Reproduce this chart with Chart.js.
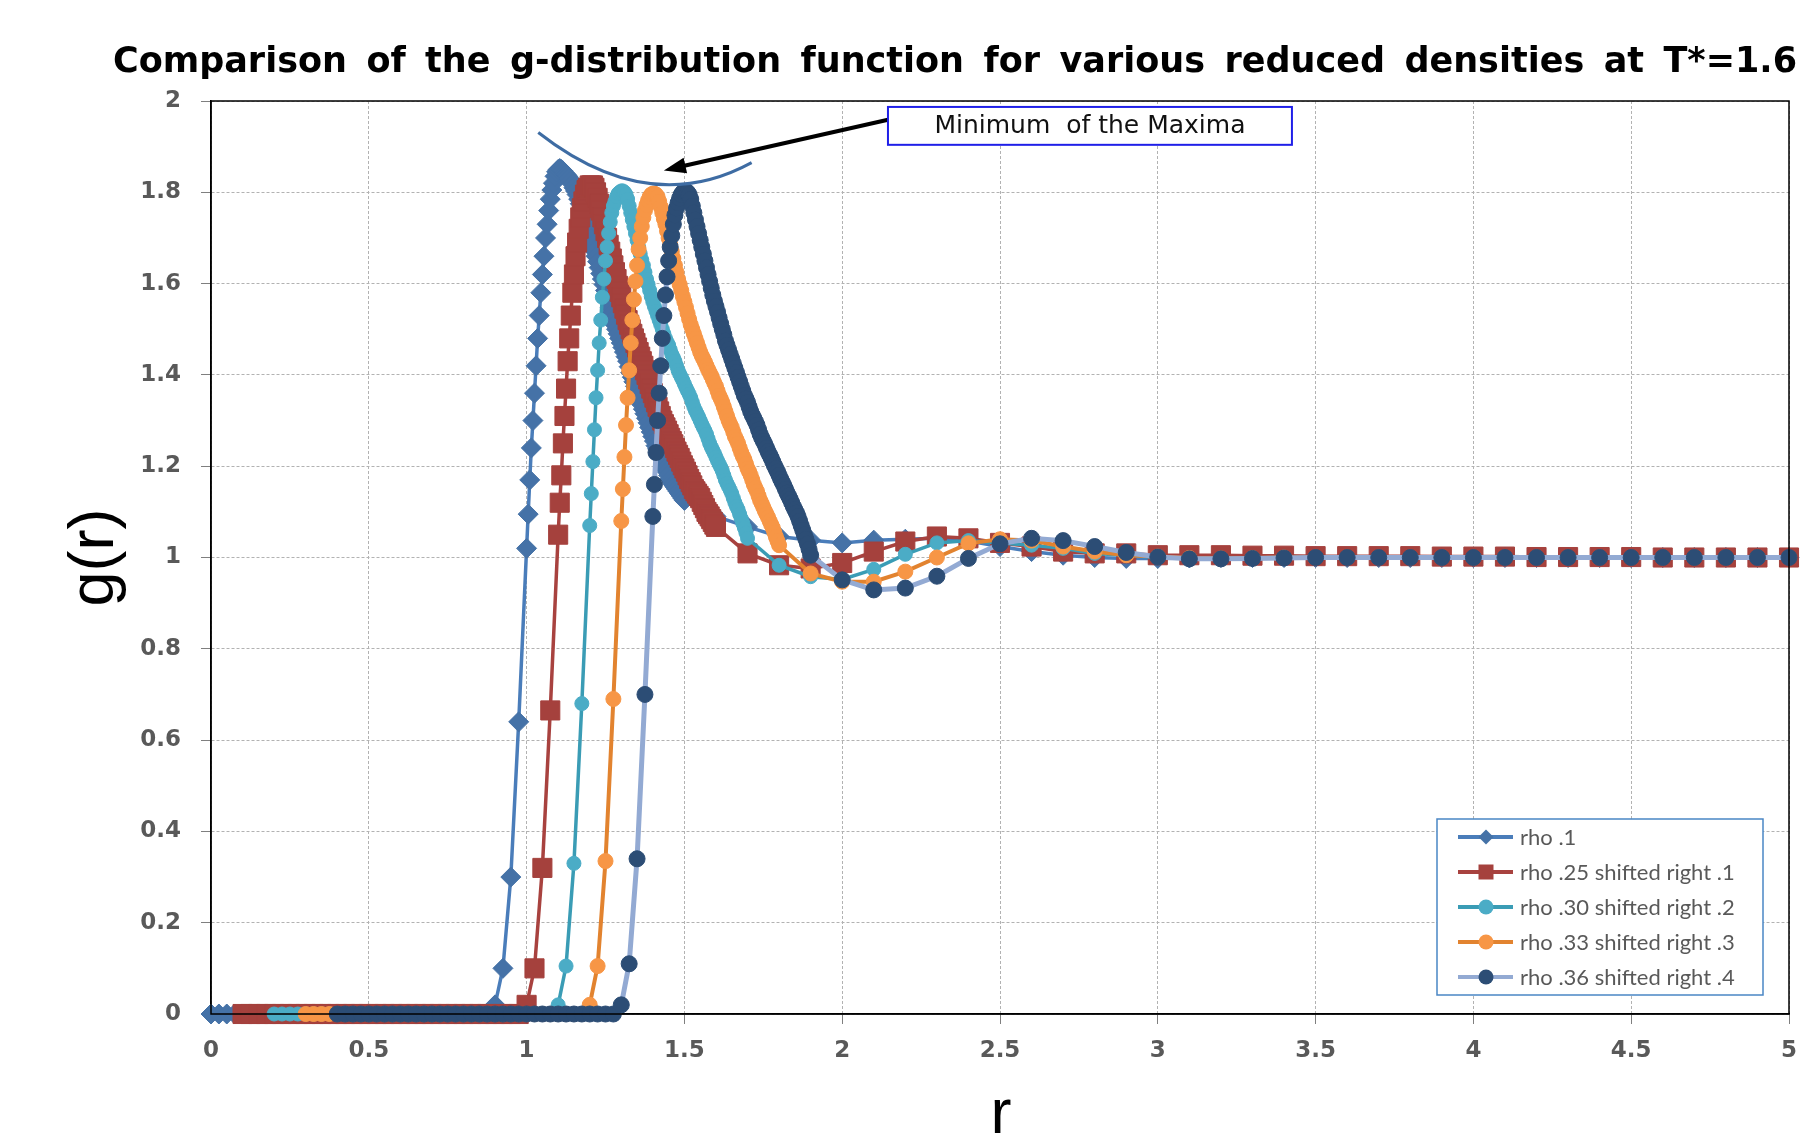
<!DOCTYPE html>
<html>
<head>
<meta charset="utf-8">
<script src="https://cdn.jsdelivr.net/npm/chart.js@4.4.1/dist/chart.umd.min.js"></script>
<style>
  html, body { margin: 0; padding: 0; background: #fff; }
  canvas { display: block; }
</style>
</head>
<body>
<canvas id="grChart" width="1820" height="1141"></canvas>
<script>
// ------------------------------------------------------------
// g(r) for several reduced densities, T* = 1.6
// each curve is plotted at r + shift (see legend)
// ------------------------------------------------------------

// r grid of the tables (unshifted)
const rBase = [
  0, 0.025, 0.05, 0.075, 0.1, 0.125, 0.15, 0.175, 0.2, 0.225, 0.25, 0.275, 0.3, 0.325, 0.35, 0.375,
  0.4, 0.425, 0.45, 0.475, 0.5, 0.525, 0.55, 0.575, 0.6, 0.625, 0.65, 0.675, 0.7, 0.725, 0.75, 0.775,
  0.8, 0.825, 0.85, 0.875, 0.9, 0.925, 0.95, 0.975,
  1.0, 1.005, 1.01, 1.015, 1.02, 1.025, 1.03, 1.035, 1.04, 1.045,
  1.05, 1.055, 1.06, 1.065, 1.07, 1.075, 1.08, 1.085, 1.09, 1.095,
  1.1, 1.105, 1.11, 1.115, 1.12, 1.125, 1.13, 1.135, 1.14, 1.145,
  1.15, 1.155, 1.16, 1.165, 1.17, 1.175, 1.18, 1.185, 1.19, 1.195,
  1.2, 1.205, 1.21, 1.215, 1.22, 1.225, 1.23, 1.235, 1.24, 1.245,
  1.25, 1.255, 1.26, 1.265, 1.27, 1.275, 1.28, 1.285, 1.29, 1.295,
  1.3, 1.305, 1.31, 1.315, 1.32, 1.325, 1.33, 1.335, 1.34, 1.345,
  1.35, 1.355, 1.36, 1.365, 1.37, 1.375, 1.38, 1.385, 1.39, 1.395,
  1.4, 1.405, 1.41, 1.415, 1.42, 1.425, 1.43, 1.435, 1.44, 1.445,
  1.45, 1.455, 1.46, 1.465, 1.47, 1.475, 1.48, 1.485, 1.49, 1.495,
  1.5,
  1.6, 1.7, 1.8, 1.9, 2.0, 2.1, 2.2, 2.3, 2.4, 2.5, 2.6, 2.7, 2.8, 2.9, 3.0, 3.1, 3.2, 3.3, 3.4,
  3.5, 3.6, 3.7, 3.8, 3.9, 4.0, 4.1, 4.2, 4.3, 4.4, 4.5, 4.6, 4.7, 4.8, 4.9, 5.0
];

const gRho10 = [
  0, 0, 0, 0, 0, 0, 0, 0, 0, 0, 0, 0, 0, 0, 0, 0, 0, 0, 0, 0, 0, 0, 0, 0, 0, 0, 0, 0, 0, 0, 0, 0,
  0, 0, 0, 0, 0.02, 0.10, 0.30, 0.64,
  1.02, 1.095, 1.17, 1.24, 1.30, 1.36, 1.42, 1.48, 1.53, 1.58,
  1.62, 1.66, 1.70, 1.73, 1.76, 1.785, 1.805, 1.82, 1.835, 1.845,
  1.85, 1.852, 1.85, 1.847, 1.842, 1.839, 1.835, 1.83, 1.825, 1.818,
  1.81, 1.803, 1.795, 1.785, 1.775, 1.765, 1.755, 1.745, 1.735, 1.722,
  1.71, 1.698, 1.685, 1.672, 1.66, 1.648, 1.635, 1.622, 1.61, 1.598,
  1.585, 1.572, 1.56, 1.548, 1.535, 1.522, 1.51, 1.50, 1.49, 1.48,
  1.47, 1.46, 1.45, 1.44, 1.43, 1.418, 1.405, 1.395, 1.385, 1.375,
  1.365, 1.355, 1.345, 1.335, 1.325, 1.315, 1.305, 1.295, 1.285, 1.275,
  1.265, 1.255, 1.245, 1.238, 1.23, 1.222, 1.215, 1.205, 1.195, 1.188,
  1.18, 1.172, 1.165, 1.16, 1.155, 1.15, 1.145, 1.14, 1.135, 1.13,
  1.125,
  1.09, 1.067, 1.046, 1.038, 1.032, 1.038, 1.04, 1.042, 1.036, 1.024, 1.013, 1.005, 1.0, 0.998,
  0.998, 0.999, 1.0, 1.0, 1.0, 1.0, 1.0, 1.0, 1.0, 1.0, 1.0, 1.0, 1.0, 1.0, 1.0, 1.0, 1.0, 1.0,
  1.0, 1.0, 1.0
];

const gRho25 = [
  0, 0, 0, 0, 0, 0, 0, 0, 0, 0, 0, 0, 0, 0, 0, 0, 0, 0, 0, 0, 0, 0, 0, 0, 0, 0, 0, 0, 0, 0, 0, 0,
  0, 0, 0, 0, 0.02, 0.10, 0.32, 0.665,
  1.05, 1.12, 1.18, 1.25, 1.31, 1.37, 1.43, 1.48, 1.53, 1.58,
  1.62, 1.66, 1.69, 1.72, 1.745, 1.765, 1.78, 1.795, 1.805, 1.81,
  1.815, 1.815, 1.815, 1.81, 1.80, 1.788, 1.775, 1.76, 1.745, 1.73,
  1.715, 1.70, 1.685, 1.67, 1.655, 1.64, 1.625, 1.61, 1.595, 1.582,
  1.57, 1.557, 1.545, 1.532, 1.52, 1.51, 1.50, 1.49, 1.48, 1.47,
  1.46, 1.45, 1.44, 1.43, 1.42, 1.41, 1.40, 1.39, 1.38, 1.37,
  1.36, 1.35, 1.34, 1.33, 1.32, 1.31, 1.30, 1.292, 1.285, 1.278,
  1.27, 1.262, 1.255, 1.248, 1.24, 1.232, 1.225, 1.218, 1.21, 1.202,
  1.195, 1.188, 1.18, 1.172, 1.165, 1.158, 1.15, 1.145, 1.14, 1.135,
  1.13, 1.122, 1.115, 1.108, 1.10, 1.095, 1.09, 1.084, 1.078, 1.072,
  1.067,
  1.009, 0.983, 0.976, 0.988, 1.013, 1.035, 1.046, 1.042, 1.032, 1.024, 1.013, 1.009, 1.009,
  1.005, 1.005, 1.005, 1.004, 1.004, 1.003, 1.003, 1.003, 1.003, 1.002, 1.002, 1.002, 1.001,
  1.001, 1.001, 1.001, 1.0, 1.0, 1.0, 1.0, 1.0, 1.0
];

const gRho30 = [
  0, 0, 0, 0, 0, 0, 0, 0, 0, 0, 0, 0, 0, 0, 0, 0, 0, 0, 0, 0, 0, 0, 0, 0, 0, 0, 0, 0, 0, 0, 0, 0,
  0, 0, 0, 0, 0.02, 0.105, 0.33, 0.68,
  1.07, 1.14, 1.21, 1.28, 1.35, 1.41, 1.47, 1.52, 1.57, 1.61,
  1.65, 1.68, 1.71, 1.735, 1.755, 1.77, 1.78, 1.79, 1.797, 1.80,
  1.803, 1.803, 1.80, 1.795, 1.785, 1.77, 1.755, 1.74, 1.725, 1.71,
  1.695, 1.68, 1.665, 1.652, 1.64, 1.625, 1.61, 1.598, 1.585, 1.572,
  1.56, 1.55, 1.54, 1.53, 1.52, 1.51, 1.50, 1.49, 1.48, 1.472,
  1.465, 1.455, 1.445, 1.438, 1.43, 1.42, 1.41, 1.402, 1.395, 1.388,
  1.38, 1.372, 1.365, 1.358, 1.35, 1.34, 1.33, 1.322, 1.315, 1.308,
  1.30, 1.292, 1.285, 1.278, 1.27, 1.26, 1.25, 1.242, 1.235, 1.228,
  1.22, 1.212, 1.205, 1.198, 1.19, 1.18, 1.17, 1.162, 1.155, 1.148,
  1.14, 1.13, 1.12, 1.112, 1.105, 1.095, 1.085, 1.075, 1.065, 1.054,
  1.042,
  0.983, 0.958, 0.952, 0.974, 1.007, 1.032, 1.037, 1.032, 1.027, 1.02, 1.009, 1.005, 1.0, 0.998,
  0.998, 0.999, 1.0, 1.0, 1.0, 1.0, 1.0, 1.0, 1.0, 1.0, 1.0, 1.0, 1.0, 1.0, 1.0, 1.0, 1.0, 1.0,
  1.0, 1.0, 1.0
];

const gRho33 = [
  0, 0, 0, 0, 0, 0, 0, 0, 0, 0, 0, 0, 0, 0, 0, 0, 0, 0, 0, 0, 0, 0, 0, 0, 0, 0, 0, 0, 0, 0, 0, 0,
  0, 0, 0, 0, 0.02, 0.105, 0.335, 0.69,
  1.08, 1.15, 1.22, 1.29, 1.35, 1.41, 1.47, 1.52, 1.565, 1.605,
  1.64, 1.675, 1.70, 1.725, 1.745, 1.76, 1.772, 1.782, 1.79, 1.795,
  1.797, 1.797, 1.795, 1.79, 1.78, 1.768, 1.755, 1.742, 1.73, 1.715,
  1.70, 1.685, 1.67, 1.655, 1.64, 1.625, 1.61, 1.598, 1.585, 1.572,
  1.56, 1.548, 1.535, 1.522, 1.51, 1.50, 1.49, 1.48, 1.47, 1.46,
  1.45, 1.442, 1.435, 1.428, 1.42, 1.412, 1.405, 1.398, 1.39, 1.382,
  1.375, 1.365, 1.355, 1.348, 1.34, 1.33, 1.32, 1.31, 1.30, 1.292,
  1.285, 1.275, 1.265, 1.258, 1.25, 1.24, 1.23, 1.222, 1.215, 1.205,
  1.195, 1.188, 1.18, 1.17, 1.16, 1.152, 1.145, 1.135, 1.125, 1.118,
  1.11, 1.102, 1.095, 1.088, 1.08, 1.072, 1.065, 1.055, 1.045, 1.036,
  1.027,
  0.965, 0.947, 0.947, 0.969, 1.0, 1.031, 1.04, 1.037, 1.024, 1.013, 1.005, 1.002, 0.999, 0.998,
  0.999, 1.0, 1.0, 1.0, 1.0, 1.0, 1.0, 1.0, 1.0, 1.0, 1.0, 1.0, 1.0, 1.0, 1.0, 1.0, 1.0, 1.0,
  1.0, 1.0, 1.0
];

const gRho36 = [
  0, 0, 0, 0, 0, 0, 0, 0, 0, 0, 0, 0, 0, 0, 0, 0, 0, 0, 0, 0, 0, 0, 0, 0, 0, 0, 0, 0, 0, 0, 0, 0,
  0, 0, 0, 0, 0.02, 0.11, 0.34, 0.70,
  1.09, 1.16, 1.23, 1.30, 1.36, 1.42, 1.48, 1.53, 1.575, 1.615,
  1.65, 1.68, 1.705, 1.73, 1.75, 1.765, 1.777, 1.787, 1.795, 1.80,
  1.802, 1.802, 1.80, 1.795, 1.785, 1.77, 1.755, 1.74, 1.725, 1.71,
  1.695, 1.68, 1.665, 1.65, 1.635, 1.62, 1.605, 1.59, 1.575, 1.562,
  1.55, 1.538, 1.525, 1.512, 1.50, 1.488, 1.475, 1.465, 1.455, 1.445,
  1.435, 1.425, 1.415, 1.405, 1.395, 1.385, 1.375, 1.365, 1.355, 1.348,
  1.34, 1.33, 1.32, 1.312, 1.305, 1.298, 1.29, 1.28, 1.27, 1.262,
  1.255, 1.248, 1.24, 1.232, 1.225, 1.218, 1.21, 1.202, 1.195, 1.188,
  1.18, 1.172, 1.165, 1.158, 1.15, 1.142, 1.135, 1.128, 1.12, 1.112,
  1.105, 1.098, 1.09, 1.08, 1.07, 1.06, 1.05, 1.04, 1.03, 1.018,
  1.005,
  0.951, 0.929, 0.933, 0.959, 0.998, 1.03, 1.042, 1.037, 1.024, 1.011, 1.001, 0.997, 0.997, 0.998,
  0.999, 1.0, 1.0, 1.0, 1.0, 1.0, 1.0, 1.0, 1.0, 1.0, 1.0, 1.0, 1.0, 1.0, 1.0, 1.0, 1.0, 1.0,
  1.0, 1.0, 1.0
];

const seriesNames = [
  'rho .1',
  'rho .25 shifted right .1',
  'rho .30 shifted right .2',
  'rho .33 shifted right .3',
  'rho .36 shifted right .4'
];
const shifts = [0, 0.1, 0.2, 0.3, 0.4];

const xTickLabels = ['0', '0.5', '1', '1.5', '2', '2.5', '3', '3.5', '4', '4.5', '5'];
const yTickLabels = ['0', '0.2', '0.4', '0.6', '0.8', '1', '1.2', '1.4', '1.6', '1.8', '2'];

const titleText = 'Comparison of the g-distribution function for various reduced densities at T*=1.6';
const noteText = 'Minimum  of the Maxima';

// annotation anchors, in data units (r, g)
const minMaxCurve = [[1.037, 1.931], [1.386, 1.742], [1.713, 1.865]];
const arrowLine = [[2.145, 1.959], [1.435, 1.848]];
const noteBox = [[2.145, 1.987], [3.425, 1.904]];

// look of each series (Excel-like)
const styles = [
  { line: '#4A7DBA', fill: '#4572A7', shape: 'rectRot', r: 10, w: 3.5 },
  { line: '#A8423F', fill: '#A5413D', shape: 'rect', r: 13.5, w: 3.5 },
  { line: '#3A9CB5', fill: '#4BACC6', shape: 'circle', r: 7, w: 3.5 },
  { line: '#E2832F', fill: '#F79646', shape: 'circle', r: 7.5, w: 4 },
  { line: '#93AAD3', fill: '#2C4D75', shape: 'circle', r: 8, w: 5 }
];

const gSeries = [gRho10, gRho25, gRho30, gRho33, gRho36];
gSeries.forEach((g, k) => {
  if (g.length !== rBase.length) console.error('length mismatch', seriesNames[k], g.length, rBase.length);
});

const datasets = gSeries.map((g, k) => ({
  label: seriesNames[k],
  data: rBase
    .map((r, i) => ({ x: Math.round((r + shifts[k]) * 1000) / 1000, y: g[i] }))
    .filter(p => p.x <= 5.0001),
  borderColor: styles[k].line,
  borderWidth: styles[k].w,
  backgroundColor: styles[k].fill,
  pointBackgroundColor: styles[k].fill,
  pointBorderColor: styles[k].fill,
  pointBorderWidth: 1,
  pointStyle: styles[k].shape,
  pointRadius: styles[k].r,
  tension: 0,
  order: 4 - k,   // later series drawn on top, as in the original
  clip: false
}));

function marker(ctx, shape, x, y, s) {
  ctx.beginPath();
  if (shape === 'rectRot') {
    ctx.moveTo(x, y - s); ctx.lineTo(x + s, y); ctx.lineTo(x, y + s); ctx.lineTo(x - s, y);
    ctx.closePath();
  } else if (shape === 'rect') {
    ctx.rect(x - s, y - s, 2 * s, 2 * s);
  } else {
    ctx.arc(x, y, s, 0, Math.PI * 2);
  }
  ctx.fill();
}

const decor = {
  id: 'decor',
  beforeDraw(chart) {
    const ctx = chart.ctx;
    ctx.save();
    ctx.fillStyle = '#fff';
    ctx.fillRect(0, 0, chart.width, chart.height);
    ctx.restore();
  },
  afterDatasetsDraw(chart) {
    const { ctx, scales: { x, y } } = chart;
    const px = p => [x.getPixelForValue(p[0]), y.getPixelForValue(p[1])];
    ctx.save();

    // curve through the maxima
    const [c0, c1, c2] = minMaxCurve.map(px);
    ctx.strokeStyle = '#3E6CA3';
    ctx.lineWidth = 3;
    ctx.beginPath();
    ctx.moveTo(c0[0], c0[1]);
    ctx.quadraticCurveTo(c1[0], c1[1], c2[0], c2[1]);
    ctx.stroke();

    // arrow
    const [a0, a1] = arrowLine.map(px);
    const ang = Math.atan2(a1[1] - a0[1], a1[0] - a0[0]);
    const head = 22;
    ctx.strokeStyle = '#000';
    ctx.fillStyle = '#000';
    ctx.lineWidth = 4;
    ctx.beginPath();
    ctx.moveTo(a0[0], a0[1]);
    ctx.lineTo(a1[0] - Math.cos(ang) * head * 0.8, a1[1] - Math.sin(ang) * head * 0.8);
    ctx.stroke();
    ctx.beginPath();
    ctx.moveTo(a1[0], a1[1]);
    ctx.lineTo(a1[0] - Math.cos(ang) * head + Math.sin(ang) * 8, a1[1] - Math.sin(ang) * head - Math.cos(ang) * 8);
    ctx.lineTo(a1[0] - Math.cos(ang) * head - Math.sin(ang) * 8, a1[1] - Math.sin(ang) * head + Math.cos(ang) * 8);
    ctx.closePath();
    ctx.fill();

    // note box
    const [b0, b1] = noteBox.map(px);
    ctx.fillStyle = '#fff';
    ctx.fillRect(b0[0], b0[1], b1[0] - b0[0], b1[1] - b0[1]);
    ctx.strokeStyle = '#1F1FE8';
    ctx.lineWidth = 2;
    ctx.strokeRect(b0[0], b0[1], b1[0] - b0[0], b1[1] - b0[1]);
    ctx.fillStyle = '#111';
    ctx.font = '25px "DejaVu Sans", sans-serif';
    ctx.textAlign = 'center';
    ctx.textBaseline = 'middle';
    ctx.fillText(noteText, (b0[0] + b1[0]) / 2, (b0[1] + b1[1]) / 2 + 1);
    ctx.restore();
  },
  afterDraw(chart) {
    const { ctx, chartArea: ca } = chart;
    ctx.save();

    // plot frame
    ctx.strokeStyle = '#000';
    ctx.lineWidth = 1.5;
    ctx.strokeRect(ca.left, ca.top, ca.right - ca.left, ca.bottom - ca.top);

    // title, words spread over the full width
    ctx.fillStyle = '#000';
    ctx.font = 'bold 35px "DejaVu Sans", sans-serif';
    ctx.textAlign = 'left';
    ctx.textBaseline = 'alphabetic';
    const words = titleText.split(' ');
    const ww = words.map(w => ctx.measureText(w).width);
    const tx0 = 113, tw = 1684;
    const gap = (tw - ww.reduce((a, b) => a + b, 0)) / (words.length - 1);
    let tx = tx0;
    words.forEach((w, i) => { ctx.fillText(w, tx, 72); tx += ww[i] + gap; });

    // axis titles
    ctx.font = '63px "Liberation Sans", Arial, sans-serif';
    ctx.textAlign = 'center';
    ctx.fillText('r', (ca.left + ca.right) / 2 + 1, 1133);
    ctx.save();
    ctx.translate(96, (ca.top + ca.bottom) / 2);
    ctx.rotate(-Math.PI / 2);
    ctx.textBaseline = 'middle';
    ctx.fillText('g(r)', 0, 0);
    ctx.restore();

    // legend
    const lx = ca.right - 352, ly = ca.bottom - 195, lw = 326, lh = 176;
    ctx.fillStyle = '#fff';
    ctx.fillRect(lx, ly, lw, lh);
    ctx.strokeStyle = '#4A86C5';
    ctx.lineWidth = 1.5;
    ctx.strokeRect(lx, ly, lw, lh);
    ctx.font = '22px Lato, "Open Sans", sans-serif';
    ctx.textAlign = 'left';
    ctx.textBaseline = 'middle';
    seriesNames.forEach((name, k) => {
      const cy = ly + 18 + k * 35;
      ctx.strokeStyle = styles[k].line;
      ctx.lineWidth = 4;
      ctx.beginPath();
      ctx.moveTo(lx + 21, cy);
      ctx.lineTo(lx + 76, cy);
      ctx.stroke();
      ctx.fillStyle = styles[k].fill;
      marker(ctx, styles[k].shape, lx + 49, cy, 7.5);
      ctx.fillStyle = '#595959';
      ctx.fillText(name, lx + 83, cy + 1);
    });
    ctx.restore();
  }
};

const tickFont = { family: '"DejaVu Sans", sans-serif', size: 23, weight: 'bold' };
const gridStyle = {
  color: '#B2B2B2',
  lineWidth: 1,
  tickLength: 10,
  tickColor: '#7F7F7F',
  tickBorderDash: []
};
const borderStyle = { color: '#000', width: 1.5, dash: [3, 2] };

new Chart(document.getElementById('grChart'), {
  type: 'line',
  data: { datasets },
  options: {
    responsive: false,
    animation: false,
    events: [],
    layout: { padding: { top: 101, right: 31, left: 0, bottom: 0 } },
    plugins: { legend: { display: false }, tooltip: { enabled: false } },
    scales: {
      x: {
        type: 'linear',
        min: 0, max: 5,
        ticks: { stepSize: 0.5, font: tickFont, color: '#595959', padding: 13,
                 callback: (v, i) => xTickLabels[i] },
        grid: gridStyle,
        border: borderStyle,
        afterFit: s => { s.height = 127; }
      },
      y: {
        min: 0, max: 2,
        ticks: { stepSize: 0.2, font: tickFont, color: '#595959', padding: 20,
                 callback: (v, i) => yTickLabels[i] },
        grid: gridStyle,
        border: borderStyle,
        afterFit: s => { s.width = 211; }
      }
    }
  },
  plugins: [decor]
});
</script>
</body>
</html>
